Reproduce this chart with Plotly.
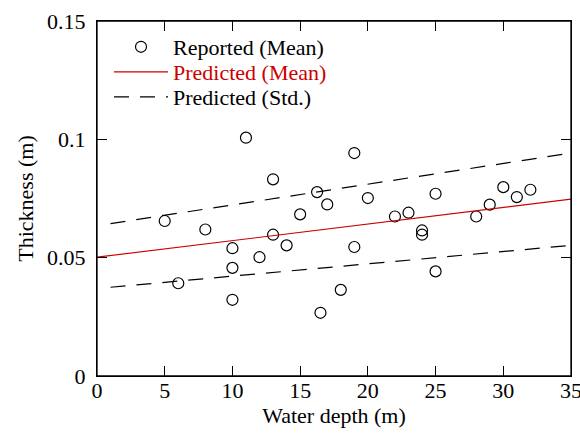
import plotly.graph_objects as go

# Reported (Mean) observations
depth = [5, 6, 8, 10, 10, 10, 11, 12, 13, 13, 14, 15, 16.25, 16.5, 17, 18, 19, 19,
         20, 22, 23, 24, 24, 25, 25, 28, 29, 30, 31, 32]
thickness = [0.0655, 0.0392, 0.0619, 0.0540, 0.0457, 0.0322, 0.1007, 0.0502, 0.0831,
             0.0597, 0.0552, 0.0683, 0.0777, 0.0267, 0.0725, 0.0364, 0.0942, 0.0545,
             0.0752, 0.0674, 0.0690, 0.0615, 0.0597, 0.0770, 0.0442, 0.0674, 0.0724,
             0.0798, 0.0756, 0.0787]

# Predicted mean line
mean_x = [0, 35]
mean_y = [0.0502, 0.0747]

# Predicted +/- std lines
std_x = [1, 35]
std_upper = [0.0644, 0.0942]
std_lower = [0.0375, 0.0552]

x_ticks = [0, 5, 10, 15, 20, 25, 30, 35]
y_ticks = [0, 0.05, 0.1, 0.15]
y_tick_labels = ["0", "0.05", "0.1", "0.15"]

FONT = "Liberation Serif, Times New Roman, serif"
RED = "#cc0000"

fig = go.Figure()
fig.add_trace(go.Scatter(
    x=depth, y=thickness, mode="markers", name="Reported (Mean)",
    marker=dict(symbol="circle-open", size=11, color="black", line=dict(width=1.2)),
    legend="legend"))
fig.add_trace(go.Scatter(
    x=mean_x, y=mean_y, mode="lines", name="Predicted (Mean)",
    line=dict(color=RED, width=1.2), legend="legend2"))
fig.add_trace(go.Scatter(
    x=std_x, y=std_upper, mode="lines", name="Predicted (Std.)",
    line=dict(color="black", width=1.2, dash="15px,11px"), legend="legend3"))
fig.add_trace(go.Scatter(
    x=std_x, y=std_lower, mode="lines", name="Predicted (Std.)",
    line=dict(color="black", width=1.2, dash="15px,11px"), showlegend=False))

W, H = 580, 434
ml, mr, mt, mb = 97, 9, 21, 58
pw, ph = W - ml - mr, H - mt - mb


def px_to_paper(px, py):
    return (px - ml) / pw, (H - mb - py) / ph


def legend_at(py, color="black"):
    lx, ly = px_to_paper(109, py)
    return dict(x=lx, y=ly, xanchor="left", yanchor="middle", bgcolor="rgba(0,0,0,0)",
                borderwidth=0, itemwidth=54, font=dict(family=FONT, size=22, color=color),
                tracegroupgap=0)


axis_common = dict(
    showline=True, linecolor="black", linewidth=1.3, mirror="ticks",
    ticks="inside", ticklen=10, tickwidth=1, tickcolor="black",
    showgrid=False, zeroline=False, ticklabeloverflow="allow", automargin=False,
    tickfont=dict(family=FONT, size=22, color="black"),
)

fig.update_layout(
    width=W, height=H,
    margin=dict(l=ml, r=mr, t=mt, b=mb, pad=0, autoexpand=False),
    paper_bgcolor="white", plot_bgcolor="white",
    font=dict(family=FONT, size=22, color="black"),
    xaxis=dict(range=[0, 35], tickvals=x_ticks, ticklabelstandoff=-6,
               title=dict(text="Water depth (m)", font=dict(family=FONT, size=22), standoff=2),
               **axis_common),
    yaxis=dict(range=[0, 0.15], tickvals=y_ticks, ticktext=y_tick_labels,
               ticklabelstandoff=6,
               title=dict(text="Thickness (m)", font=dict(family=FONT, size=22), standoff=7),
               **axis_common),
    legend=legend_at(47),
    legend2=legend_at(72, RED),
    legend3=legend_at(97),
    showlegend=True,
    shapes=[dict(type="rect", xref="paper", yref="paper", x0=0, x1=1, y0=0, y1=1,
                 line=dict(color="black", width=1.3), fillcolor="rgba(0,0,0,0)", layer="above")],
)

fig.write_html("out.html", config={"displayModeBar": False},
               post_script="document.body.style.margin='0';document.body.style.overflow='hidden';")
